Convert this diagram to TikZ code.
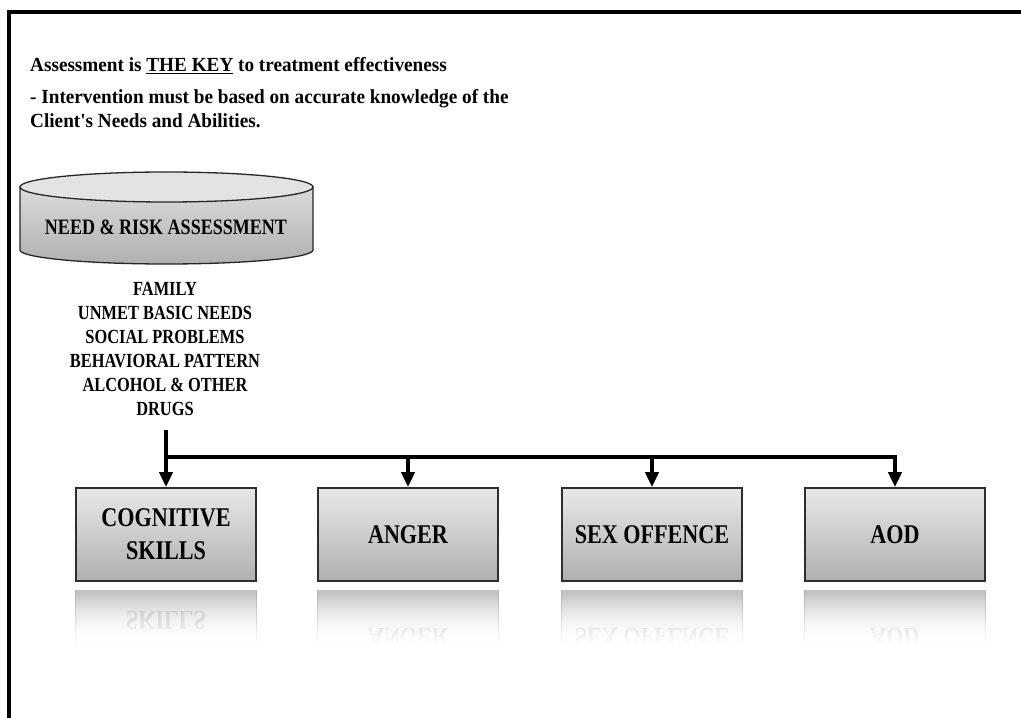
\documentclass[tikz,border=0pt]{standalone}
\usepackage{fontspec}
\setmainfont{Liberation Serif}[FakeStretch=0.82]
\newfontfamily\headfamily{Liberation Serif}[FakeStretch=0.96]
\usetikzlibrary{arrows.meta,fadings}

% transparent at the top, opaque at the bottom
\tikzfading[name=fadedown, top color=transparent!100, bottom color=transparent!0]

\begin{document}
\begin{tikzpicture}[x=1pt,y=1pt,
  frame/.style={line width=4pt, line join=miter},
  headtext/.style={anchor=base west, inner sep=0pt, font=\headfamily\fontsize{20}{24}\selectfont\bfseries},
  drum/.style={draw=black!85, line width=1.3pt},
  drumlabel/.style={font=\fontsize{22}{26}\selectfont\bfseries},
  needs/.style={align=center, font=\fontsize{20}{24}\selectfont\bfseries},
  box/.style={draw=black!82, line width=1.6pt, top color=black!9, bottom color=black!31,
    minimum width=180pt, minimum height=93pt, inner sep=0pt, align=center,
    font=\fontsize{27}{33}\selectfont\bfseries},
  ghost/.style={align=center, text=black!28, transform shape, yscale=-1,
    font=\fontsize{27}{33}\selectfont\bfseries},
  flow/.style={line width=4pt, -{Triangle[length=15pt,width=13pt]}}
]
\useasboundingbox (0,0) rectangle (1021,718);

% page frame
\draw[frame] (9,-10) -- (9,706) -- (1030,706);

% heading
\node[headtext] (key) at (30,646) {Assessment is \underline{THE KEY} to treatment effectiveness};
\node[headtext] (basis) at (30,614) {- Intervention must be based on accurate knowledge of the};
\node[headtext] (client) at (30,590) {Client's Needs and Abilities.};

% assessment drum
\path[drum, top color=black!14, bottom color=black!31]
  (20,531) -- (20,468) arc[start angle=180, end angle=360, x radius=146.5pt, y radius=14pt]
  -- (313,531) -- cycle;
\draw[drum, fill=black!11] (166.5,531) ellipse [x radius=146.5pt, y radius=15pt];
\node[drumlabel] (assess) at (166,491) {NEED \& RISK ASSESSMENT};

\node[needs] (areas) at (165,369) {FAMILY\\UNMET BASIC NEEDS\\SOCIAL PROBLEMS\\BEHAVIORAL PATTERN\\ALCOHOL \& OTHER\\DRUGS};

% programme boxes
\node[box] (cog) at (166,183.5) {COGNITIVE\\SKILLS};
\node[box] (anger) at (408,183.5) {ANGER};
\node[box] (sex) at (652,183.5) {SEX OFFENCE};
\node[box] (aod) at (895,183.5) {AOD};

% mirrored reflections under the boxes
\newcommand\mirrorbox[2]{%
  \begin{scope}
    \clip ([xshift=-2pt,yshift=-9pt]#1.south west) rectangle ([xshift=2pt,yshift=-61pt]#1.south east);
    \shade[top color=black!24, bottom color=white]
      ([yshift=-9pt]#1.south west) rectangle ([yshift=-61pt]#1.south east);
    \draw[black!30, line width=1.2pt] ([yshift=-9pt]#1.south west) -- ([yshift=-61pt]#1.south west);
    \draw[black!30, line width=1.2pt] ([yshift=-9pt]#1.south east) -- ([yshift=-61pt]#1.south east);
    \node[ghost] at ([yshift=-55.5pt]#1.south) {#2};
    \fill[white, path fading=fadedown]
      ([xshift=-3pt,yshift=-12pt]#1.south west) rectangle ([xshift=3pt,yshift=-62pt]#1.south east);
  \end{scope}}
\mirrorbox{cog}{COGNITIVE\\SKILLS}
\mirrorbox{anger}{ANGER}
\mirrorbox{sex}{SEX OFFENCE}
\mirrorbox{aod}{AOD}

% connectors
\coordinate (trunk) at (cog.north |- 0,288);
\coordinate (split) at (cog.north |- 0,261);
\draw[flow] (trunk) -- (cog.north);
\draw[flow] (split) -| (aod.north);
\draw[flow] (split -| anger.north) -- (anger.north);
\draw[flow] (split -| sex.north) -- (sex.north);
\end{tikzpicture}
\end{document}
